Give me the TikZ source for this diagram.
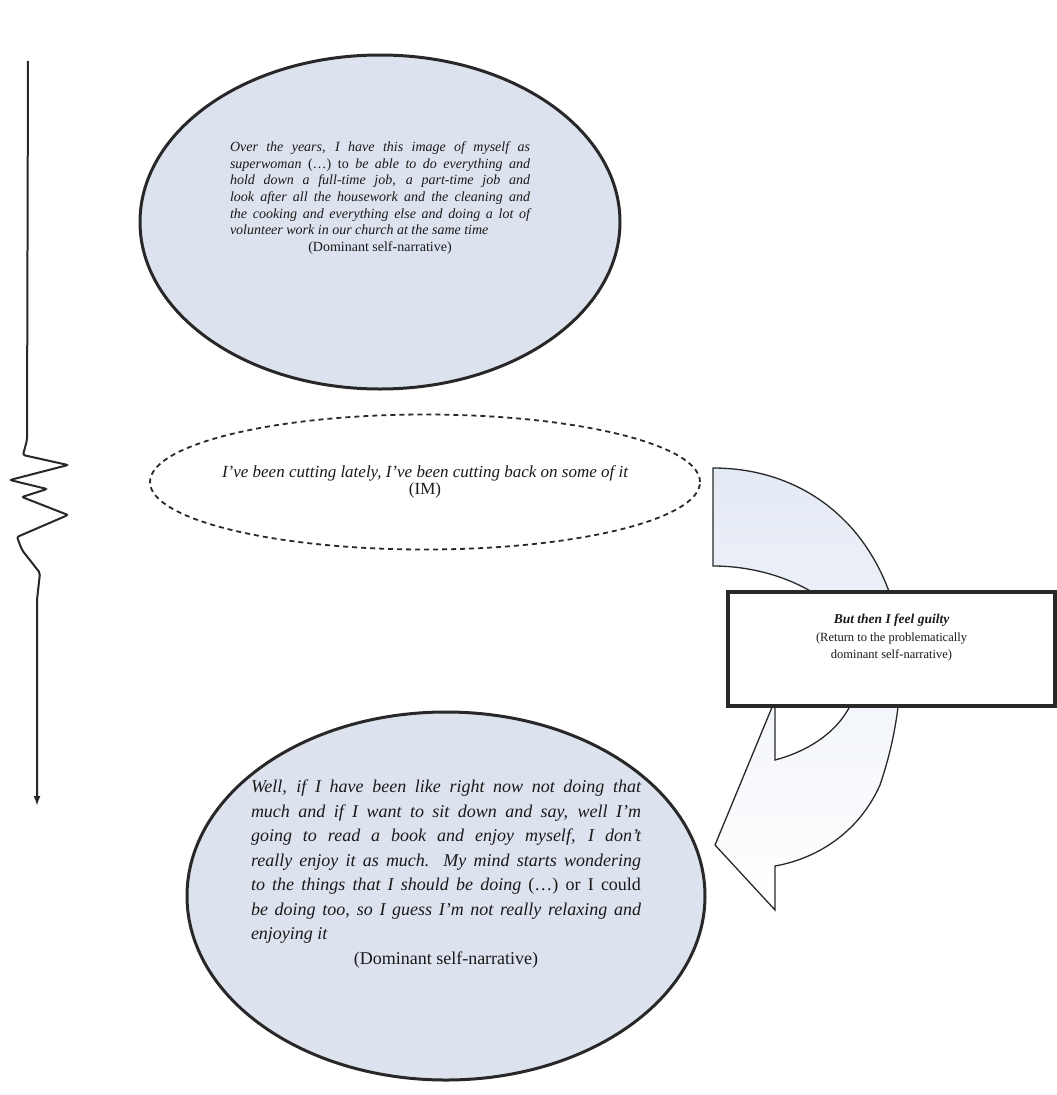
\documentclass[tikz,border=0pt]{standalone}
\usepackage{fontspec}
\setmainfont{Liberation Serif}
\usetikzlibrary{shapes.geometric,arrows.meta,positioning}
\definecolor{bubblefill}{RGB}{221,227,238}
\definecolor{inkgray}{RGB}{40,40,40}
\definecolor{arrowtint}{RGB}{228,234,245}
\hyphenpenalty=10000
\exhyphenpenalty=10000

\begin{document}
\begin{tikzpicture}[x=1pt, y=-1pt]
    \tikzstyle{narrative} = [ellipse, draw=inkgray, line width=3pt, fill=bubblefill, inner sep=0pt]
    \tikzstyle{moment} = [ellipse, draw=inkgray, line width=1.8pt, dash pattern=on 5pt off 4pt, inner sep=0pt]
    \tikzstyle{quote} = [inner sep=0pt, text=black!90]
    \tikzstyle{guiltbox} = [rectangle, draw=inkgray, line width=4.5pt, fill=white, minimum width=327pt, minimum height=114pt]
    \tikzstyle{timeline} = [draw=inkgray, line width=2pt, rounded corners=2pt, -{Latex[length=10pt,width=7pt]}]

    \useasboundingbox (0,0) rectangle (1057,1095);

    % Time axis
    \coordinate (tstart) at (28,61);
    \coordinate (tend) at (37,806);
    \draw [timeline] (tstart) -- (27,440) -- (23,455) -- (68,465) -- (10,480) -- (47,489)
        -- (22,497) -- (68,515) -- (17,537) -- (22,550) -- (40,573) -- (37,600) -- (tend);

    % Self-narratives
    \node [narrative, minimum width=480pt, minimum height=334pt] (domA) at (380,222) {};
    \node [moment, minimum width=550pt, minimum height=135pt] (im) at (425,482) {};
    \node [narrative, minimum width=518pt, minimum height=368pt] (domB) at (446,896) {};

    \node [quote, text width=300pt, align=justify, font=\fontsize{14}{16.7}\selectfont\itshape] (domAtxt) at ([yshift=24pt]domA.center)
        {Over the years, I have this image of myself as\linebreak
        superwoman \textup{(…) to} be able to do everything and\linebreak
        hold down a full-time job, a part-time job and\linebreak
        look after all the housework and the cleaning and\linebreak
        the cooking and everything else and doing a lot of\linebreak
        volunteer work in our church at the same time\par
        {\centering\upshape (Dominant self-narrative)\par}};
    \node [quote, align=center, font=\fontsize{17}{17}\selectfont\itshape] (imtxt) at (im.center)
        {I've been cutting lately, I've been cutting back on some of it\\\upshape(IM)};
    \node [quote, text width=390pt, align=justify, font=\fontsize{18}{24.5}\selectfont\itshape] (domBtxt) at ([yshift=22pt]domB.center)
        {Well, if I have been like right now not doing that\linebreak
        much and if I want to sit down and say, well I'm\linebreak
        going to read a book and enjoy myself, I don't\linebreak
        really enjoy it as much. My mind starts wondering\linebreak
        to the things that I should be doing \textup{(…) or I could}\linebreak
        be doing too, so I guess I'm not really relaxing and\linebreak
        enjoying it\par
        {\centering\upshape (Dominant self-narrative)\par}};

    % Return arrow
    \draw [line width=1.3pt, draw=inkgray, top color=arrowtint, bottom color=white]
        (713,468) .. controls (800,468) and (870,520) .. (895,610)
        .. controls (905,660) and (902,720) .. (880,785)
        .. controls (860,830) and (820,858) .. (775,866)
        -- (775,910) -- (715,845) -- (775,700) -- (775,760)
        .. controls (805,752) and (835,735) .. (850,706)
        -- (812,592) .. controls (785,576) and (750,566) .. (713,566) -- cycle;

    \node [guiltbox] (guilt) at (891.5,649) {};
    \node [quote, align=center, font=\fontsize{12.5}{17.5}\selectfont] (guilttxt) at ([yshift=11pt]guilt.center)
        {{\fontsize{13.5}{17.5}\selectfont\bfseries\itshape But then I feel guilty}\\(Return to the problematically\\dominant self-narrative)};
\end{tikzpicture}
\end{document}
